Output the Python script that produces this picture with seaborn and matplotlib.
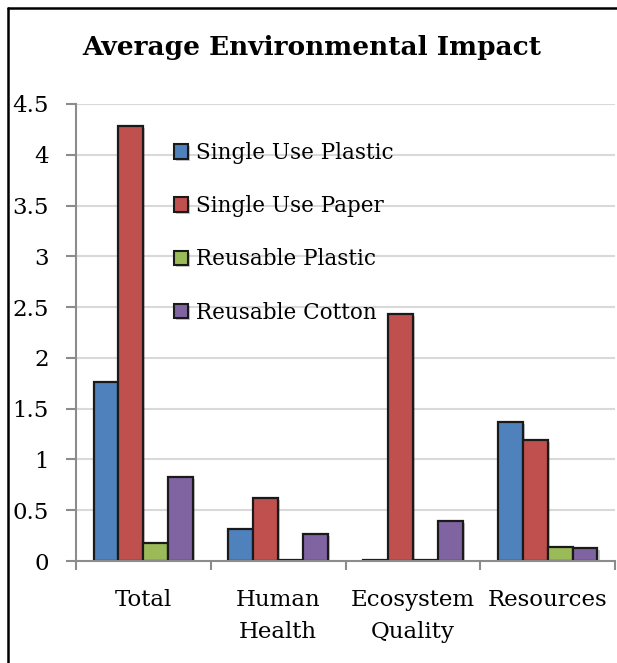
import matplotlib
matplotlib.use("Agg")
import matplotlib.pyplot as plt
import matplotlib.patheffects as pe
from matplotlib.lines import Line2D
import seaborn as sns
import pandas as pd

categories = ["Total", "Human\nHealth", "Ecosystem\nQuality", "Resources"]
series = ["Single Use Plastic", "Single Use Paper", "Reusable Plastic", "Reusable Cotton"]
single_use_plastic = [1.76, 0.32, 0.01, 1.37]
single_use_paper = [4.28, 0.62, 2.43, 1.19]
reusable_plastic = [0.18, 0.01, 0.005, 0.14]
reusable_cotton = [0.83, 0.27, 0.39, 0.13]
y_ticks = [0, 0.5, 1, 1.5, 2, 2.5, 3, 3.5, 4, 4.5]
y_tick_labels = ["0", "0.5", "1", "1.5", "2", "2.5", "3", "3.5", "4", "4.5"]
colors = ["#4F81BD", "#C0504D", "#9BBB59", "#8064A2"]

rows = []
for name, vals in zip(series, [single_use_plastic, single_use_paper,
                               reusable_plastic, reusable_cotton]):
    for cat, v in zip(categories, vals):
        rows.append({"category": cat, "series": name, "value": v})
df = pd.DataFrame(rows)

sns.set_theme(style="white")
plt.rcParams["font.family"] = ["DejaVu Serif"]
plt.rcParams["text.color"] = "black"
plt.rcParams["xtick.color"] = "black"
plt.rcParams["ytick.color"] = "black"

W, H = 617, 663
fig = plt.figure(figsize=(W / 100, H / 100), dpi=100)
ax = fig.add_axes([76 / W, (H - 561) / H, (615 - 76) / W, (561 - 104) / H])

sns.barplot(data=df, x="category", y="value", hue="series", order=categories,
            hue_order=series, palette=colors, width=0.74, saturation=1,
            edgecolor="#1a1a1a", linewidth=1.6, ax=ax, zorder=3)

for p in ax.patches:
    p.set_path_effects([pe.SimplePatchShadow(offset=(1.5, -1.5), alpha=0.25),
                        pe.Normal()])

ax.set_ylim(0, 4.5)
ax.set_xlim(-0.5, 3.5)
ax.set_yticks(y_ticks)
ax.set_yticklabels(y_tick_labels, fontsize=16.5)
ax.set_xlabel("")
ax.set_ylabel("")

ax.yaxis.grid(True, color="#D9D9D9", linewidth=1.5, zorder=0)
ax.set_axisbelow(True)

grey = "#8C8C8C"
for side in ["top", "right"]:
    ax.spines[side].set_visible(False)
for side in ["left", "bottom"]:
    ax.spines[side].set_color(grey)
    ax.spines[side].set_linewidth(1.5)
ax.spines["bottom"].set_zorder(4)

ax.tick_params(axis="y", left=True, length=7.5, width=1.5, color=grey,
               pad=12, labelsize=16.5, labelcolor="black")
ax.set_xticks(range(len(categories)))
ax.set_xticklabels(categories, fontsize=16.5, linespacing=1.6)
ax.tick_params(axis="x", which="major", bottom=False, length=0, pad=20,
               labelcolor="black")
ax.set_xticks([-0.5, 0.5, 1.5, 2.5, 3.5], minor=True)
ax.tick_params(axis="x", which="minor", bottom=True, length=6.5, width=1.5,
               color=grey)
for lbl in ax.get_xticklabels():
    lbl.set_verticalalignment("top")

leg = ax.legend(loc="upper left", bbox_to_anchor=(174 / W, (H - 142) / H),
                bbox_transform=fig.transFigure, frameon=False, fontsize=15.5,
                handlelength=0.65, handleheight=0.65, handletextpad=0.35,
                labelspacing=1.45, borderpad=0, borderaxespad=0)
for h in leg.legend_handles:
    h.set_edgecolor("#1a1a1a")
    h.set_linewidth(1.5)
for t in leg.get_texts():
    t.set_color("black")

fig.text(312 / W, (H - 47) / H, "Average Environmental Impact",
         ha="center", va="center", fontsize=19, fontweight="heavy",
         color="black")

# outer chart frame: left and top edges
fig.add_artist(Line2D([7.5 / W, 7.5 / W], [0, (H - 8) / H],
                      transform=fig.transFigure, color="black", linewidth=1.8))
fig.add_artist(Line2D([7.5 / W, 1.0], [(H - 8) / H, (H - 8) / H],
                      transform=fig.transFigure, color="black", linewidth=1.8))

fig.savefig("out.png", dpi=100)
